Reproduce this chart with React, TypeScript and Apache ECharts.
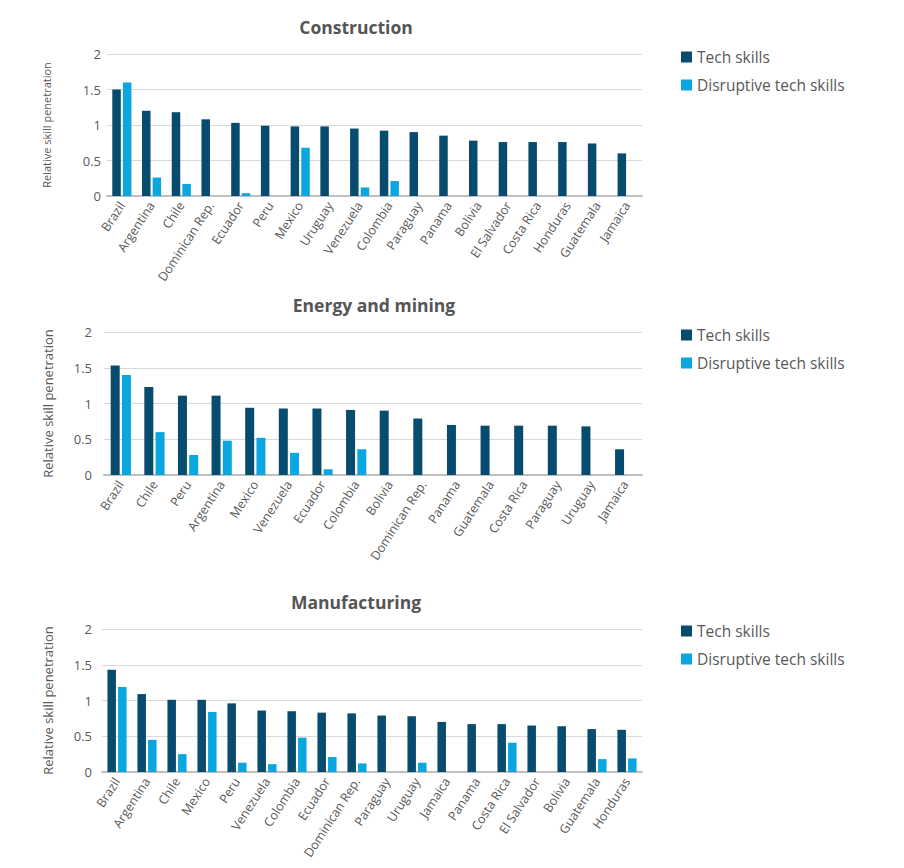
import React, { useEffect, useRef } from "react";
import * as echarts from "echarts";

const seriesNames = ["Tech skills", "Disruptive tech skills"];
const yTicks = [0, 0.5, 1, 1.5, 2];

const constructionCountries = ["Brazil", "Argentina", "Chile", "Dominican Rep.", "Ecuador", "Peru", "Mexico", "Uruguay", "Venezuela", "Colombia", "Paraguay", "Panama", "Bolivia", "El Salvador", "Costa Rica", "Honduras", "Guatemala", "Jamaica"];
const constructionTech = [1.5, 1.2, 1.18, 1.08, 1.03, 0.99, 0.98, 0.98, 0.95, 0.92, 0.9, 0.85, 0.78, 0.76, 0.76, 0.76, 0.74, 0.6];
const constructionDisruptive = [1.6, 0.26, 0.17, null, 0.04, null, 0.68, null, 0.12, 0.21, null, null, null, null, null, null, null, null];

const energyCountries = ["Brazil", "Chile", "Peru", "Argentina", "Mexico", "Venezuela", "Ecuador", "Colombia", "Bolivia", "Dominican Rep.", "Panama", "Guatemala", "Costa Rica", "Paraguay", "Uruguay", "Jamaica"];
const energyTech = [1.53, 1.23, 1.11, 1.11, 0.94, 0.93, 0.93, 0.91, 0.9, 0.79, 0.7, 0.69, 0.69, 0.69, 0.68, 0.36];
const energyDisruptive = [1.4, 0.6, 0.28, 0.48, 0.52, 0.31, 0.08, 0.36, null, null, null, null, null, null, null, null];

const manufacturingCountries = ["Brazil", "Argentina", "Chile", "Mexico", "Peru", "Venezuela", "Colombia", "Ecuador", "Dominican Rep.", "Paraguay", "Uruguay", "Jamaica", "Panama", "Costa Rica", "El Salvador", "Bolivia", "Guatemala", "Honduras"];
const manufacturingTech = [1.43, 1.09, 1.01, 1.01, 0.96, 0.86, 0.85, 0.83, 0.82, 0.79, 0.78, 0.7, 0.67, 0.67, 0.65, 0.64, 0.6, 0.59];
const manufacturingDisruptive = [1.19, 0.45, 0.25, 0.84, 0.13, 0.11, 0.48, 0.21, 0.12, null, 0.13, null, null, 0.41, null, null, 0.18, 0.19];

const panels = [
  { title: "Construction", countries: constructionCountries, tech: constructionTech, disruptive: constructionDisruptive },
  { title: "Energy and mining", countries: energyCountries, tech: energyTech, disruptive: energyDisruptive },
  { title: "Manufacturing", countries: manufacturingCountries, tech: manufacturingTech, disruptive: manufacturingDisruptive },
];

const DARK = "#074b6e";
const LIGHT = "#0aa6e0";
const TEXT = "#595959";
const FONT = "'Open Sans', Lato, sans-serif";

// layout (pixels)
const layout = [
  { left: 107, right: 262, top: 54, bottom: 868 - 196, titleX: 351, titleTop: 13, legendTop: 44, nameSize: 11, nameGap: 55, labelMargin: 6, barWidth: 8.5 },
  { left: 104, right: 262, top: 332, bottom: 868 - 475, titleX: 369, titleTop: 291, legendTop: 322, nameSize: 13, nameGap: 50, labelMargin: 12, barWidth: 9 },
  { left: 102, right: 262, top: 629, bottom: 868 - 772, titleX: 351, titleTop: 588, legendTop: 618, nameSize: 13, nameGap: 48, labelMargin: 10, barWidth: 8.5 },
];

export default function App() {
  const ref = useRef<HTMLDivElement>(null);
  useEffect(() => {
    document.body.style.margin = "0";
    const chart = echarts.init(ref.current!, null, { renderer: "svg" });
    const option: any = {
      animation: false,
      backgroundColor: "#ffffff",
      title: panels.map((p, i) => ({
        text: p.title,
        left: layout[i].titleX,
        top: layout[i].titleTop,
        textAlign: "center",
        textStyle: { fontFamily: FONT, fontSize: 17.5, fontWeight: "bold", color: "#555555" },
      })),
      legend: panels.map((p, i) => ({
        data: seriesNames,
        orient: "vertical",
        left: 676,
        top: layout[i].legendTop,
        icon: "rect",
        itemWidth: 11,
        itemHeight: 11,
        itemGap: 12,
        textStyle: { fontFamily: FONT, fontSize: 15.5, color: TEXT },
      })),
      grid: layout.map((l) => ({ left: l.left, right: l.right, top: l.top, bottom: l.bottom, containLabel: false })),
      xAxis: panels.map((p, i) => ({
        type: "category",
        gridIndex: i,
        data: p.countries,
        axisTick: { show: false },
        axisLine: { lineStyle: { color: "#bfbfbf", width: 2 } },
        axisLabel: { rotate: 57, fontFamily: FONT, fontSize: 12.5, color: TEXT, margin: 7, interval: 0 },
      })),
      yAxis: panels.map((p, i) => ({
        type: "value",
        gridIndex: i,
        min: yTicks[0],
        max: yTicks[yTicks.length - 1],
        interval: 0.5,
        name: "Relative skill penetration",
        nameLocation: "middle",
        nameGap: layout[i].nameGap,
        nameTextStyle: { fontFamily: FONT, fontSize: layout[i].nameSize, color: TEXT },
        axisLine: { show: false },
        axisTick: { show: false },
        splitLine: { lineStyle: { color: "#d9d9d9", width: 1 } },
        axisLabel: { fontFamily: FONT, fontSize: 13, color: TEXT, margin: layout[i].labelMargin },
      })),
      series: panels.flatMap((p, i) => [
        {
          name: seriesNames[0],
          type: "bar",
          xAxisIndex: i,
          yAxisIndex: i,
          data: p.tech,
          barWidth: layout[i].barWidth,
          barGap: "25%",
          itemStyle: { color: DARK },
        },
        {
          name: seriesNames[1],
          type: "bar",
          xAxisIndex: i,
          yAxisIndex: i,
          data: p.disruptive,
          barWidth: layout[i].barWidth,
          barGap: "25%",
          itemStyle: { color: LIGHT },
        },
      ]),
    };
    chart.setOption(option);
    return () => chart.dispose();
  }, []);
  return <div ref={ref} style={{ width: 904, height: 868 }} />;
}
